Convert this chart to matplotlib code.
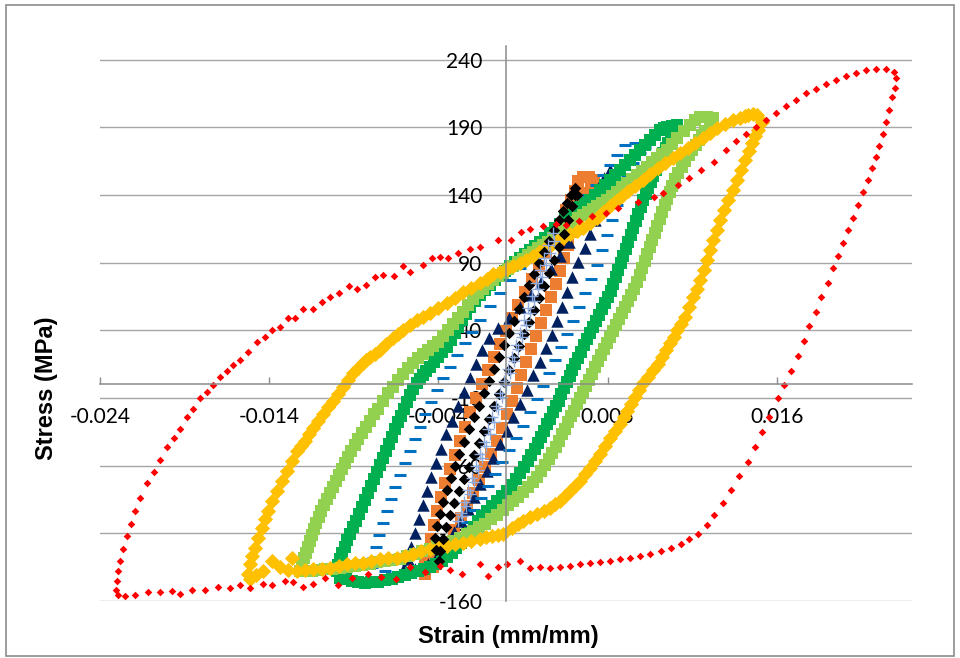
import matplotlib
matplotlib.use("Agg")
import matplotlib.pyplot as plt
from matplotlib.patches import Rectangle

# ---- hysteresis loops: strain (mm/mm) and stress (MPa) ----
red_x = [0.02304, 0.02292, 0.02245, 0.02186, 0.02127, 0.02067, 0.02008, 0.01949, 0.01890, 0.01831,
         0.01772, 0.01712, 0.01653, 0.01594, 0.01535, 0.01476, 0.01417, 0.01357, 0.01298, 0.01227,
         0.01150, 0.01079, 0.01014, 0.00931, 0.00872, 0.00783, 0.00665, 0.00594, 0.00511, 0.00434,
         0.00357, 0.00298, 0.00221, 0.00144, 0.00090, 0.00031, -0.00045, -0.00151, -0.00211, -0.00282,
         -0.00341, -0.00388, -0.00435, -0.00489, -0.00566, -0.00607, -0.00660, -0.00725, -0.00773, -0.00826,
         -0.00879, -0.00927, -0.00986, -0.01039, -0.01086, -0.01140, -0.01199, -0.01246, -0.01288, -0.01335,
         -0.01382, -0.01424, -0.01471, -0.01524, -0.01572, -0.01613, -0.01649, -0.01690, -0.01731, -0.01767,
         -0.01808, -0.01850, -0.01885, -0.01927, -0.01962, -0.02004, -0.02045, -0.02080, -0.02122, -0.02163,
         -0.02193, -0.02217, -0.02240, -0.02264, -0.02282, -0.02293, -0.02299, -0.02305, -0.02293,
         -0.02252, -0.02193, -0.02116, -0.02045, -0.01974, -0.01927, -0.01856, -0.01779, -0.01702, -0.01631,
         -0.01572, -0.01512, -0.01436, -0.01382, -0.01305, -0.01258, -0.01199, -0.01140, -0.01069, -0.00992,
         -0.00909, -0.00814, -0.00737, -0.00649, -0.00566, -0.00477, -0.00388, -0.00329, -0.00258, -0.00151,
         -0.00104, -0.00045, 0.00006, 0.00083, 0.00142, 0.00201, 0.00260, 0.00320, 0.00379, 0.00438,
         0.00497, 0.00556, 0.00615, 0.00675, 0.00734, 0.00793, 0.00854, 0.00914, 0.00973, 0.01032,
         0.01079, 0.01133, 0.01186, 0.01227, 0.01280, 0.01328, 0.01375, 0.01428, 0.01470, 0.01511,
         0.01553, 0.01606, 0.01641, 0.01683, 0.01724, 0.01760, 0.01789, 0.01831, 0.01860, 0.01902,
         0.01931, 0.01961, 0.01991, 0.02020, 0.02050, 0.02079, 0.02109, 0.02138, 0.02162, 0.02186,
         0.02203, 0.02227, 0.02245, 0.02263, 0.02280, 0.02298]
red_y = [226.7, 231.0, 233.0, 233.0, 232.6, 230.0, 228.0, 225.0, 222.0, 218.5,
         215.0, 210.0, 206.0, 200.7, 195.6, 190.4, 185.0, 180.0, 173.0, 164.0,
         158.5, 152.6, 147.4, 141.5, 138.5, 134.8, 130.4, 126.7, 124.4, 120.7,
         117.8, 118.5, 117.0, 114.8, 112.6, 106.7, 106.7, 101.5, 100.0, 97.0,
         93.3, 94.0, 93.3, 88.0, 83.0, 87.4, 80.0, 80.7, 79.3, 73.3,
         70.4, 72.6, 67.4, 64.4, 60.7, 55.6, 55.6, 48.9, 48.9, 42.2,
         40.0, 34.8, 31.0, 23.7, 17.8, 14.0, 9.6, 5.2, -0.7, -5.9,
         -10.4, -18.5, -24.4, -32.6, -39.3, -45.9, -55.6, -64.4, -72.6, -83.7,
         -93.3, -103.0, -111.9, -121.5, -130.4, -137.8, -145.2, -151.9, -155.6,
         -156.3, -155.6, -153.3, -153.3, -152.6, -154.8, -151.9, -151.9, -149.6, -150.4,
         -148.1, -150.4, -147.4, -148.1, -145.2, -145.9, -149.6, -147.4, -143.0, -148.1,
         -143.0, -140.0, -142.2, -143.7, -134.8, -138.5, -134.0, -137.0, -140.0, -132.6,
         -141.5, -134.8, -132.6, -130.4, -135.6, -134.8, -135.6, -134.8, -134.0, -132.6,
         -131.9, -131.1, -130.4, -128.9, -128.1, -126.7, -125.2, -123.0, -120.7, -117.8,
         -114.1, -110.4, -103.7, -96.3, -87.4, -77.8, -67.4, -57.0, -45.9, -34.8,
         -24.4, -10.4, -0.7, 9.6, 20.7, 31.9, 43.0, 53.3, 64.4, 74.8,
         85.9, 94.8, 104.4, 114.0, 123.0, 132.6, 142.2, 151.1, 160.0, 168.0,
         176.3, 185.0, 194.0, 203.0, 212.0, 219.0]

# gold loop, (strain, stress) pairs
gold_pts = [
    (0.01485, 199.3), (0.01460, 199.8), (0.01432, 199.3), (0.01410, 198.5), (0.01385, 197.0),
    (0.01340, 195.0), (0.01296, 192.6), (0.01250, 189.5), (0.01207, 185.9), (0.01162, 182.2),
    (0.01118, 178.5), (0.01074, 174.8), (0.01030, 171.1), (0.00985, 167.4), (0.00941, 163.7),
    (0.00896, 159.6), (0.00852, 155.6), (0.00808, 151.1), (0.00763, 146.7), (0.00724, 143.0),
    (0.00686, 139.3), (0.00650, 135.6), (0.00615, 131.9), (0.00576, 127.4), (0.00538, 123.0),
    (0.00497, 119.3), (0.00456, 115.6), (0.00418, 113.3), (0.00379, 111.1), (0.00343, 108.9),
    (0.00308, 106.7), (0.00270, 103.7), (0.00231, 100.7), (0.00195, 97.8), (0.00160, 94.8),
    (0.00121, 92.2), (0.00083, 89.6), (0.00044, 87.4), (0.00006, 85.2), (-0.00035, 83.3),
    (-0.00077, 81.5), (-0.00115, 78.1), (-0.00154, 74.8), (-0.00204, 71.5), (-0.00254, 68.1),
    (-0.00302, 64.0), (-0.00349, 60.0), (-0.00400, 56.3), (-0.00450, 52.6), (-0.00488, 50.0),
    (-0.00527, 47.4), (-0.00568, 43.7), (-0.00609, 40.0), (-0.00639, 37.0), (-0.00669, 34.1),
    (-0.00708, 29.6), (-0.00746, 25.2), (-0.00776, 22.6), (-0.00805, 20.0), (-0.00826, 17.8),
    (-0.00846, 15.6), (-0.00876, 11.9), (-0.00905, 8.1), (-0.00935, 3.0), (-0.00964, -2.2),
    (-0.00994, -7.0), (-0.01024, -11.9), (-0.01054, -16.7), (-0.01083, -21.5), (-0.01113, -26.7),
    (-0.01142, -31.9), (-0.01166, -36.7), (-0.01189, -41.5), (-0.01213, -45.2), (-0.01237, -48.9),
    (-0.01267, -56.3), (-0.01296, -63.7), (-0.01326, -71.1), (-0.01355, -78.5), (-0.01382, -85.9),
    (-0.01408, -93.3), (-0.01426, -99.6), (-0.01444, -105.9), (-0.01465, -113.3), (-0.01485, -120.7),
    (-0.01500, -126.7), (-0.01515, -132.6), (-0.01527, -140.0),
    (-0.01515, -143.7), (-0.01475, -140.7), (-0.01438, -137.8), (-0.01385, -130.4), (-0.01337, -134.8),
    (-0.01290, -137.0), (-0.01266, -128.1), (-0.01237, -137.8), (-0.01190, -137.0), (-0.01142, -136.3),
    (-0.01090, -136.0), (-0.01041, -135.6), (-0.00990, -134.0), (-0.00941, -132.6), (-0.00894, -132.2),
    (-0.00846, -131.9), (-0.00796, -130.4), (-0.00746, -128.9), (-0.00695, -128.5), (-0.00645, -128.1),
    (-0.00598, -126.7), (-0.00550, -125.2), (-0.00500, -123.3), (-0.00450, -121.5), (-0.00400, -120.4),
    (-0.00349, -119.3), (-0.00300, -118.1), (-0.00254, -117.0), (-0.00204, -115.6), (-0.00154, -114.1),
    (-0.00118, -113.0), (-0.00083, -111.9), (-0.00050, -111.1), (-0.00018, -110.4), (0.00036, -105.9),
    (0.00068, -103.3), (0.00101, -100.7), (0.00142, -98.1), (0.00183, -95.6), (0.00222, -93.3),
    (0.00260, -91.1), (0.00290, -88.5), (0.00320, -85.9), (0.00350, -82.2), (0.00379, -78.5),
    (0.00408, -74.8), (0.00438, -71.1), (0.00468, -66.3), (0.00497, -61.5), (0.00527, -56.3),
    (0.00556, -51.1), (0.00586, -45.2), (0.00615, -39.3), (0.00645, -34.1), (0.00675, -28.9),
    (0.00696, -24.1), (0.00716, -19.3), (0.00740, -14.4), (0.00763, -9.6), (0.00787, -4.4),
    (0.00811, 0.7), (0.00840, 5.6), (0.00870, 10.4), (0.00897, 15.2), (0.00923, 20.0),
    (0.00947, 25.2), (0.00970, 30.4), (0.00991, 35.2), (0.01012, 40.0), (0.01036, 44.8),
    (0.01059, 49.6), (0.01083, 57.0), (0.01106, 64.4), (0.01127, 70.7), (0.01148, 77.0),
    (0.01169, 84.4), (0.01189, 91.9), (0.01207, 99.3), (0.01225, 106.7), (0.01246, 114.1),
    (0.01266, 121.5), (0.01290, 128.9), (0.01314, 136.3), (0.01340, 143.7), (0.01367, 151.1),
    (0.01390, 158.5), (0.01414, 165.9), (0.01435, 172.2), (0.01456, 178.5), (0.01474, 183.3),
    (0.01491, 188.1), (0.01515, 194.1)]

lgreen_pts = [
    (0.01225, 197.0), (0.01190, 197.8), (0.01148, 197.8), (0.01120, 195.0), (0.01089, 191.9),
    (0.01050, 187.0), (0.01012, 182.2), (0.00982, 177.8), (0.00953, 173.3), (0.00923, 170.4),
    (0.00893, 167.4), (0.00864, 164.0), (0.00834, 160.7), (0.00805, 157.8), (0.00775, 154.8),
    (0.00746, 151.9), (0.00716, 148.9), (0.00687, 145.6), (0.00657, 142.2), (0.00628, 139.3),
    (0.00598, 136.3), (0.00568, 134.1), (0.00538, 131.9), (0.00512, 129.6), (0.00485, 127.4),
    (0.00456, 125.2), (0.00426, 123.0), (0.00397, 120.0), (0.00367, 117.0), (0.00338, 113.7),
    (0.00308, 110.4), (0.00279, 107.8), (0.00249, 105.2), (0.00219, 103.0), (0.00189, 100.7),
    (0.00160, 98.1), (0.00130, 95.6), (0.00101, 93.0), (0.00071, 90.4), (0.00042, 87.8),
    (0.00012, 85.2), (-0.00018, 82.6), (-0.00047, 80.0), (-0.00077, 77.0), (-0.00107, 74.1),
    (-0.00136, 70.7), (-0.00166, 67.4), (-0.00195, 63.0), (-0.00225, 58.5), (-0.00255, 53.7),
    (-0.00284, 48.9), (-0.00314, 44.4), (-0.00343, 40.0), (-0.00372, 35.6), (-0.00402, 31.1),
    (-0.00432, 28.1), (-0.00462, 25.2), (-0.00491, 22.2), (-0.00521, 19.3), (-0.00550, 15.6),
    (-0.00580, 11.9), (-0.00610, 7.4), (-0.00639, 3.0), (-0.00668, -1.9), (-0.00698, -6.7),
    (-0.00727, -12.2), (-0.00757, -17.8), (-0.00781, -22.2), (-0.00805, -26.7), (-0.00828, -31.1),
    (-0.00852, -35.6), (-0.00873, -40.0), (-0.00893, -44.4), (-0.00914, -48.9), (-0.00935, -53.3),
    (-0.00952, -57.8), (-0.00970, -62.2), (-0.00988, -66.7), (-0.01006, -71.1), (-0.01024, -75.6),
    (-0.01041, -80.0), (-0.01059, -84.4), (-0.01077, -88.9), (-0.01092, -93.3), (-0.01106, -97.8),
    (-0.01121, -102.2), (-0.01136, -106.7), (-0.01148, -111.1), (-0.01160, -115.6), (-0.01172, -120.0),
    (-0.01183, -124.4), (-0.01195, -128.1), (-0.01207, -131.9), (-0.01219, -137.8),
    (-0.01185, -137.8), (-0.01148, -137.8), (-0.01110, -137.0), (-0.01071, -136.3), (-0.01027, -136.0),
    (-0.00982, -135.6), (-0.00938, -134.8), (-0.00893, -134.1), (-0.00849, -133.3), (-0.00805, -132.6),
    (-0.00760, -131.5), (-0.00716, -130.4), (-0.00672, -129.6), (-0.00627, -128.9), (-0.00583, -127.0),
    (-0.00538, -125.2), (-0.00494, -123.3), (-0.00450, -121.5), (-0.00405, -119.6), (-0.00361, -117.8),
    (-0.00316, -115.6), (-0.00272, -113.3), (-0.00233, -110.7), (-0.00195, -108.1), (-0.00160, -105.6),
    (-0.00124, -103.0), (-0.00088, -99.6), (-0.00053, -96.3), (-0.00020, -92.6), (0.00012, -88.9),
    (0.00042, -85.9), (0.00071, -83.0), (0.00100, -79.3), (0.00130, -75.6), (0.00157, -71.9),
    (0.00183, -68.1), (0.00207, -63.7), (0.00231, -59.3), (0.00252, -54.8), (0.00272, -50.4),
    (0.00293, -45.9), (0.00314, -41.5), (0.00332, -37.0), (0.00349, -32.6), (0.00367, -28.1),
    (0.00385, -23.7), (0.00402, -19.3), (0.00420, -14.8), (0.00438, -10.4), (0.00456, -5.9),
    (0.00474, -1.5), (0.00491, 3.0), (0.00509, 7.8), (0.00527, 12.6), (0.00545, 17.0),
    (0.00562, 21.5), (0.00580, 25.9), (0.00598, 30.4), (0.00615, 34.8), (0.00633, 39.3),
    (0.00651, 43.7), (0.00669, 48.1), (0.00686, 52.6), (0.00704, 57.0), (0.00722, 61.5),
    (0.00740, 65.9), (0.00757, 70.7), (0.00775, 75.6), (0.00790, 80.7), (0.00805, 85.9),
    (0.00820, 91.1), (0.00834, 96.3), (0.00849, 101.5), (0.00864, 106.7), (0.00879, 111.9),
    (0.00893, 117.0), (0.00908, 122.2), (0.00923, 127.4), (0.00938, 132.2), (0.00953, 137.0),
    (0.00967, 141.9), (0.00982, 146.7), (0.01000, 151.5), (0.01018, 156.3), (0.01039, 160.7),
    (0.01059, 165.2), (0.01080, 169.3), (0.01101, 173.3), (0.01121, 177.0), (0.01142, 180.7),
    (0.01160, 184.1), (0.01178, 187.4), (0.01207, 192.6)]

green_pts = [
    (0.01012, 191.9), (0.00982, 191.1), (0.00953, 190.4), (0.00932, 189.3), (0.00911, 188.1),
    (0.00882, 184.4), (0.00852, 180.7), (0.00822, 177.0), (0.00793, 173.3), (0.00763, 169.6),
    (0.00734, 165.9), (0.00704, 162.2), (0.00675, 158.5), (0.00645, 154.8), (0.00615, 151.1),
    (0.00586, 147.4), (0.00556, 143.7), (0.00527, 140.0), (0.00497, 136.3), (0.00468, 133.7),
    (0.00438, 131.1), (0.00408, 128.1), (0.00379, 125.2), (0.00350, 121.9), (0.00320, 118.5),
    (0.00290, 115.2), (0.00260, 111.9), (0.00231, 108.5), (0.00201, 105.2), (0.00172, 102.2),
    (0.00142, 99.3), (0.00112, 96.3), (0.00083, 93.3), (0.00054, 90.4), (0.00024, 87.4),
    (-0.00006, 84.1), (-0.00036, 80.7), (-0.00066, 77.0), (-0.00095, 73.3), (-0.00125, 69.6),
    (-0.00154, 65.9), (-0.00184, 61.5), (-0.00213, 57.0), (-0.00237, 52.2), (-0.00260, 47.4),
    (-0.00281, 42.6), (-0.00302, 37.8), (-0.00326, 32.6), (-0.00349, 27.4), (-0.00376, 23.7),
    (-0.00402, 20.0), (-0.00426, 16.3), (-0.00450, 12.6), (-0.00471, 9.6), (-0.00491, 6.7),
    (-0.00509, 3.7), (-0.00527, 0.7), (-0.00548, -3.7), (-0.00568, -8.1), (-0.00586, -13.0),
    (-0.00604, -17.8), (-0.00622, -23.0), (-0.00639, -28.1), (-0.00657, -33.3), (-0.00675, -38.5),
    (-0.00693, -43.7), (-0.00710, -48.9), (-0.00728, -54.1), (-0.00746, -59.3), (-0.00764, -64.4),
    (-0.00781, -69.6), (-0.00799, -74.8), (-0.00817, -80.0), (-0.00835, -85.2), (-0.00852, -90.4),
    (-0.00870, -95.6), (-0.00888, -100.7), (-0.00906, -105.6), (-0.00923, -110.4), (-0.00938, -115.2),
    (-0.00953, -120.0), (-0.00968, -124.4), (-0.00982, -128.9), (-0.00991, -133.3), (-0.01000, -137.8),
    (-0.00982, -143.0), (-0.00947, -144.1), (-0.00911, -145.2), (-0.00873, -146.0), (-0.00834, -146.7),
    (-0.00796, -146.3), (-0.00757, -145.9), (-0.00716, -144.8), (-0.00675, -143.7), (-0.00637, -142.2),
    (-0.00598, -140.7), (-0.00560, -139.3), (-0.00521, -137.8), (-0.00486, -136.3), (-0.00450, -134.8),
    (-0.00415, -132.6), (-0.00379, -130.4), (-0.00350, -127.4), (-0.00320, -124.4), (-0.00293, -120.7),
    (-0.00266, -117.0), (-0.00240, -113.3), (-0.00213, -109.6), (-0.00190, -105.2), (-0.00166, -100.7),
    (-0.00139, -97.0), (-0.00112, -93.3), (-0.00083, -89.6), (-0.00053, -85.9), (-0.00024, -82.2),
    (0.00006, -78.5), (0.00033, -74.1), (0.00059, -69.6), (0.00083, -65.2), (0.00107, -60.7),
    (0.00128, -56.3), (0.00148, -51.9), (0.00169, -47.4), (0.00189, -43.0), (0.00207, -38.5),
    (0.00225, -34.1), (0.00243, -29.6), (0.00260, -25.2), (0.00278, -20.7), (0.00296, -16.3),
    (0.00311, -11.9), (0.00325, -7.4), (0.00343, -3.0), (0.00361, 1.5), (0.00376, 5.9),
    (0.00391, 10.4), (0.00408, 14.8), (0.00426, 19.3), (0.00444, 24.1), (0.00462, 28.9),
    (0.00480, 33.3), (0.00497, 37.8), (0.00515, 42.2), (0.00533, 46.7), (0.00550, 51.1),
    (0.00568, 55.6), (0.00586, 60.0), (0.00604, 64.4), (0.00618, 69.3), (0.00633, 74.1),
    (0.00648, 79.3), (0.00663, 84.4), (0.00677, 89.6), (0.00692, 94.8), (0.00707, 100.0),
    (0.00722, 105.2), (0.00736, 110.4), (0.00751, 115.6), (0.00766, 120.7), (0.00781, 125.9),
    (0.00796, 131.1), (0.00811, 136.3), (0.00825, 140.7), (0.00840, 145.2), (0.00855, 149.6),
    (0.00870, 154.1), (0.00884, 158.5), (0.00899, 163.0), (0.00914, 167.0), (0.00929, 171.1),
    (0.00944, 174.8), (0.00959, 178.5), (0.00973, 181.9), (0.00988, 185.2)]

blue_x = [0.00822, 0.00763, 0.00704, 0.00657, 0.00615, 0.00574, 0.00533, 0.00485, 0.00438, 0.00379,
          0.00320, 0.00260, 0.00201, 0.00142, 0.00083, 0.00024, -0.00036, -0.00095, -0.00154, -0.00201,
          -0.00243, -0.00290, -0.00331, -0.00373, -0.00408, -0.00444, -0.00479, -0.00509, -0.00538, -0.00568,
          -0.00598, -0.00627, -0.00657, -0.00680, -0.00704, -0.00728, -0.00751, -0.00769, -0.00787, -0.00793,
          -0.00716, -0.00627, -0.00538, -0.00450, -0.00373, -0.00320, -0.00272, -0.00231, -0.00189, -0.00148,
          -0.00107, -0.00065, -0.00024, 0.00018, 0.00059, 0.00101, 0.00142, 0.00183, 0.00219, 0.00254,
          0.00290, 0.00325, 0.00361, 0.00396, 0.00432, 0.00467, 0.00503, 0.00538, 0.00568, 0.00598,
          0.00627, 0.00657, 0.00686, 0.00716, 0.00751, 0.00793, 0.00822]
blue_y = [177.0, 178.5, 177.0, 169.6, 162.2, 154.8, 147.4, 140.0, 134.1, 127.4,
          120.0, 112.6, 103.7, 94.8, 85.9, 77.0, 67.4, 57.8, 47.4, 38.5,
          30.4, 21.5, 12.6, 4.4, -4.4, -13.3, -22.2, -31.1, -40.0, -48.9,
          -57.8, -66.7, -75.6, -84.4, -93.3, -102.2, -111.1, -120.0, -128.1, -134.8,
          -137.8, -139.3, -137.8, -134.8, -128.9, -120.0, -110.4, -101.5, -92.6, -83.7,
          -74.8, -65.9, -57.0, -48.1, -39.3, -30.4, -20.7, -11.1, -1.5, 8.1,
          17.8, 27.4, 37.0, 46.7, 57.0, 67.4, 77.8, 88.1, 99.3, 110.4,
          121.5, 132.6, 143.7, 154.1, 163.7, 171.1, 174.8]

navy_x = [0.00615, 0.00580, 0.00544, 0.00509, 0.00467, 0.00420, 0.00373, 0.00320, 0.00266, 0.00207,
          0.00148, 0.00083, 0.00018, -0.00047, -0.00101, -0.00142, -0.00178, -0.00213, -0.00249, -0.00284,
          -0.00320, -0.00355, -0.00385, -0.00414, -0.00444, -0.00467, -0.00491, -0.00515, -0.00538, -0.00562,
          -0.00580,
          -0.00604, -0.00538, -0.00462, -0.00402, -0.00355, -0.00308, -0.00266, -0.00225, -0.00189, -0.00154,
          -0.00112, -0.00077, -0.00036, 0.00006, 0.00041, 0.00083, 0.00124, 0.00160, 0.00201, 0.00237,
          0.00272, 0.00302, 0.00331, 0.00361, 0.00391, 0.00426, 0.00467, 0.00497, 0.00527, 0.00556,
          0.00586, 0.00609]
navy_y = [158.5, 152.6, 145.2, 136.3, 125.9, 115.6, 105.2, 94.8, 85.2, 75.6,
          65.9, 57.0, 48.9, 41.5, 34.1, 25.2, 14.8, 4.4, -5.9, -16.3,
          -26.7, -37.0, -47.4, -57.8, -68.1, -78.5, -88.9, -99.3, -109.6, -120.0,
          -128.9,
          -135.6, -136.3, -132.6, -125.2, -117.0, -108.9, -100.7, -91.9, -83.0, -73.3,
          -63.7, -54.1, -43.7, -34.1, -24.4, -14.1, -4.4, 6.7, 16.3, 26.7,
          36.3, 46.7, 57.0, 68.1, 79.3, 90.4, 100.7, 111.1, 121.5, 132.6,
          143.7, 152.6]

orange_x = [0.00520, 0.00490, 0.00455, 0.00425,
            0.00405, 0.00385, 0.00355, 0.00320, 0.00278, 0.00237, 0.00195, 0.00154, 0.00112,
            0.00071, 0.00036, 0.00000, -0.00036, -0.00071, -0.00107, -0.00142, -0.00178, -0.00213, -0.00243,
            -0.00272, -0.00302, -0.00331, -0.00361, -0.00385, -0.00408, -0.00426, -0.00444, -0.00462, -0.00479,
            -0.00479,
            -0.00432, -0.00391, -0.00349, -0.00308, -0.00266, -0.00231, -0.00195, -0.00160, -0.00124, -0.00089,
            -0.00053, -0.00024, 0.00006, 0.00036, 0.00065, 0.00089, 0.00118, 0.00148, 0.00178, 0.00207,
            0.00237, 0.00266, 0.00296, 0.00320, 0.00343, 0.00367, 0.00391, 0.00414, 0.00444, 0.00473,
            0.00503]
orange_y = [151.0, 153.0, 153.0, 150.0,
            143.0, 136.0, 128.9, 118.5, 108.1, 97.8, 87.4, 77.8, 68.1,
            58.5, 48.9, 39.3, 29.6, 20.0, 10.4, 0.0, -10.4, -20.7, -31.1,
            -41.5, -51.9, -62.2, -72.6, -83.0, -93.3, -103.7, -114.1, -123.7, -132.6,
            -140.0,
            -134.8, -125.2, -116.3, -107.4, -98.5, -89.6, -80.0, -70.4, -60.7, -51.1,
            -41.5, -31.9, -22.2, -12.6, -3.0, 6.7, 16.3, 25.9, 35.6, 45.2,
            54.8, 64.4, 74.1, 83.7, 93.3, 103.0, 112.6, 122.2, 131.9, 141.5,
            148.0]

black_x = [0.00408, 0.00385, 0.00361, 0.00337, 0.00314, 0.00284, 0.00254, 0.00225, 0.00195, 0.00166,
           0.00136, 0.00107, 0.00077, 0.00047, 0.00018, -0.00012, -0.00041, -0.00071, -0.00101, -0.00130,
           -0.00160, -0.00189, -0.00219, -0.00249, -0.00278, -0.00302, -0.00325, -0.00349, -0.00373, -0.00391,
           -0.00408, -0.00420, -0.00414, -0.00396,
           -0.00390, -0.00375, -0.00352, -0.00330, -0.00306, -0.00278, -0.00250, -0.00220, -0.00190, -0.00160,
           -0.00130, -0.00100, -0.00070, -0.00040, -0.00012, 0.00017, 0.00047, 0.00077, 0.00106, 0.00136,
           0.00165, 0.00195, 0.00224, 0.00254, 0.00284, 0.00314, 0.00343, 0.00367, 0.00391, 0.00408,
           0.00420]
black_y = [145.2, 140.0, 134.1, 128.1, 121.5, 114.1, 105.9, 97.8, 89.6, 81.5,
           73.3, 64.4, 55.6, 46.7, 37.8, 28.9, 20.0, 11.1, 2.2, -6.7,
           -15.6, -24.4, -33.3, -42.2, -51.1, -60.0, -68.9, -77.8, -86.7, -95.6,
           -104.4, -113.3, -122.2, -130.4,
           -123.0, -114.1, -105.2, -96.3, -87.4, -78.5, -69.6, -60.7, -51.9, -43.0,
           -34.1, -25.2, -16.3, -7.4, 1.5, 10.4, 19.3, 28.1, 37.0, 45.9,
           54.8, 63.7, 72.6, 82.2, 91.9, 101.5, 111.1, 121.5, 131.9, 140.0,
           140.0]

plus_x = [0.00278, 0.00249, 0.00225, 0.00201, 0.00178, 0.00154, 0.00130, 0.00107, 0.00083, 0.00059,
          0.00036, 0.00012, -0.00012, -0.00036, -0.00059, -0.00083, -0.00107, -0.00130, -0.00154, -0.00178,
          -0.00201, -0.00225, -0.00249, -0.00266, -0.00284,
          -0.00260, -0.00237, -0.00213, -0.00189, -0.00166, -0.00142, -0.00118, -0.00095, -0.00071, -0.00047,
          -0.00024, 0.00000, 0.00024, 0.00047, 0.00071, 0.00095, 0.00118, 0.00142, 0.00166, 0.00189,
          0.00213, 0.00237, 0.00260, 0.00284]
plus_y = [111.9, 103.0, 93.3, 84.4, 74.8, 65.2, 56.3, 47.4, 37.8, 28.9,
          20.0, 11.1, 2.2, -6.7, -15.6, -24.4, -33.3, -42.2, -51.1, -60.0,
          -68.9, -77.8, -86.7, -94.8, -100.7,
          -97.0, -89.6, -80.7, -71.9, -63.0, -54.1, -45.2, -36.3, -27.4, -18.5,
          -9.6, -0.7, 8.1, 17.0, 25.9, 34.8, 43.7, 52.6, 61.5, 70.4,
          79.3, 88.1, 97.0, 105.9]

x_ticks = [-0.024, -0.014, -0.004, 0.006, 0.016]
x_labels = ["-0.024", "-0.014", "-0.004", "0.006", "0.016"]
y_ticks = [-160, -110, -60, -10, 40, 90, 140, 190, 240]

gold_x, gold_y = zip(*gold_pts)
lgreen_x, lgreen_y = zip(*lgreen_pts)
green_x, green_y = zip(*green_pts)

fig = plt.figure(figsize=(9.6, 6.58), dpi=100)
ax = fig.add_axes([100 / 960, 1 - 601 / 658, 812 / 960, 555 / 658])

# series, drawn small-amplitude layers first, big red loop last
ax.scatter(orange_x, orange_y, marker="s", s=85, color="#ED7D31", linewidths=0, zorder=3)
ax.scatter(navy_x, navy_y, marker="^", s=80, color="#002060", linewidths=0, zorder=3)
ax.scatter(blue_x, blue_y, marker="_", s=75, color="#0070C0", linewidths=2.2, zorder=3)
ax.scatter(green_x, green_y, marker="s", s=70, color="#00B050", linewidths=0, zorder=3)
ax.scatter(lgreen_x, lgreen_y, marker="s", s=70, color="#92D050", linewidths=0, zorder=3)
ax.scatter(gold_x, gold_y, marker="D", s=60, color="#FFC000", linewidths=0, zorder=3)
ax.scatter(black_x, black_y, marker="D", s=34, color="#000000", linewidths=0, zorder=3)
ax.scatter(plus_x, plus_y, marker="+", s=80, color="#8FAADC", linewidths=1.0, zorder=3)
ax.scatter(red_x, red_y, marker="D", s=15, color="#FF0000", linewidths=0, zorder=3)

ax.set_xlim(-0.024, 0.024)
ax.set_ylim(-160, 250)

# axes cross at the origin, Excel style
for side in ["top", "right"]:
    ax.spines[side].set_visible(False)
ax.spines["left"].set_position(("data", 0))
ax.spines["bottom"].set_position(("data", 0))
for side in ["left", "bottom"]:
    ax.spines[side].set_color("#8C8C8C")
    ax.spines[side].set_linewidth(1.1)
    ax.spines[side].set_zorder(4)

ax.set_xticks(x_ticks)
ax.set_xticklabels(x_labels, fontfamily="Lato", fontsize=15)
ax.set_yticks(y_ticks)
ax.set_yticklabels([str(v) for v in y_ticks], fontfamily="Lato", fontsize=15)
ax.tick_params(axis="x", direction="in", length=5, width=1, color="#8C8C8C", pad=16)
ax.tick_params(axis="y", length=0, pad=17)

ax.yaxis.grid(True, color="#A6A6A6", linewidth=1.0, zorder=0)
ax.set_axisbelow(True)

fig.text(46 / 960, 1 - 388 / 658, "Stress (MPa)", rotation=90, ha="center", va="center",
         fontfamily="Liberation Sans", fontweight="bold", fontsize=17)
fig.text(508 / 960, 1 - 643 / 658, "Strain (mm/mm)", ha="center", va="baseline",
         fontfamily="Liberation Sans", fontweight="bold", fontsize=17)

# chart area border
fig.patches.append(Rectangle((6 / 960, 1 - 656 / 658), 948 / 960, 651 / 658,
                             transform=fig.transFigure, fill=False,
                             edgecolor="#8C8C8C", linewidth=1.2))

fig.savefig("out.png", dpi=100)
